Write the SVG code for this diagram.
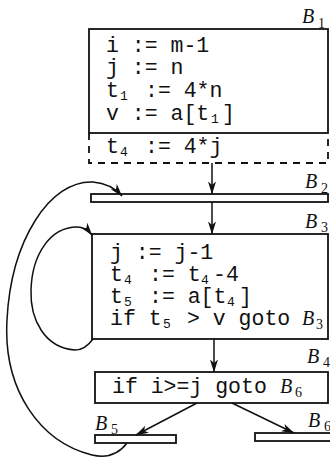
<svg xmlns="http://www.w3.org/2000/svg" width="330" height="457" viewBox="0 0 330 457">
<defs>
<marker id="ah" viewBox="0 0 13 9" refX="12.5" refY="4.5" markerWidth="13" markerHeight="9" markerUnits="userSpaceOnUse" orient="auto">
<path d="M0,0.5 L13,4.5 L0,8.5 L3.5,4.5 Z" fill="#111"/>
</marker>
<style>
.box{fill:none;stroke:#111;stroke-width:1.8}
.dash{fill:none;stroke:#111;stroke-width:1.8;stroke-dasharray:7 6}
.edge{fill:none;stroke:#111;stroke-width:1.5;marker-end:url(#ah)}
.code{font-family:"Liberation Mono","Courier New",monospace;font-size:21.5px;fill:#111}
.sub{font-size:13px}
.lab{font-family:"Liberation Serif","Times New Roman",serif;font-style:italic;font-size:20px;fill:#111}
.ls{font-style:normal;font-size:14px}
</style>
</defs>
<rect width="330" height="457" fill="#fff"/>
<text x="-7" y="33" font-family="Liberation Serif, serif" font-size="22" fill="#111">)</text>

<g id="B1">
<rect class="box" x="89" y="29" width="239" height="104"/>
<path class="dash" d="M89,133 V163 H328 V133"/>
<text class="lab" x="302" y="23">B<tspan class="ls" x="318" y="28">1</tspan></text>
<text class="code" x="106" y="52" xml:space="preserve">i := m-1</text>
<text class="code" x="106" y="74" xml:space="preserve">j := n</text>
<text class="code" x="106" y="97" xml:space="preserve">t<tspan class="sub" x="120" y="100">1</tspan><tspan x="145" y="97">:= 4*n</tspan></text>
<text class="code" x="106" y="120" xml:space="preserve">v := a[t<tspan class="sub" x="211" y="123">1</tspan><tspan x="222" y="120">]</tspan></text>
<text class="code" x="106" y="153" xml:space="preserve">t<tspan class="sub" x="120" y="156">4</tspan><tspan x="145" y="153">:= 4*j</tspan></text>
</g>

<g id="B2">
<rect class="box" x="91" y="194" width="237" height="8"/>
<text class="lab" x="305" y="188">B<tspan class="ls" x="321" y="193">2</tspan></text>
</g>

<g id="B3">
<rect class="box" x="92" y="234" width="236" height="105"/>
<text class="lab" x="305" y="228">B<tspan class="ls" x="321" y="232">3</tspan></text>
<text class="code" x="110" y="259" xml:space="preserve">j := j-1</text>
<text class="code" x="110" y="281" xml:space="preserve">t<tspan class="sub" x="124" y="284">4</tspan><tspan x="149" y="281">:= t</tspan><tspan class="sub" x="201" y="284">4</tspan><tspan x="213" y="281">-4</tspan></text>
<text class="code" x="110" y="303" xml:space="preserve">t<tspan class="sub" x="124" y="306">5</tspan><tspan x="149" y="303">:= a[t</tspan><tspan class="sub" x="227" y="306">4</tspan><tspan x="239" y="303">]</tspan></text>
<text class="code" x="110" y="325" xml:space="preserve">if t<tspan class="sub" x="163" y="328">5</tspan><tspan x="187" y="325">&gt; v goto</tspan></text>
<text class="lab" x="302" y="325">B<tspan class="ls" x="316" y="329">3</tspan></text>
</g>

<g id="B4">
<rect class="box" x="95" y="372" width="233" height="31"/>
<text class="lab" x="307" y="363">B<tspan class="ls" x="323" y="367">4</tspan></text>
<text class="code" x="112" y="393" xml:space="preserve">if i&gt;=j goto</text>
<text class="lab" x="280" y="393">B<tspan class="ls" x="295" y="397">6</tspan></text>
</g>

<g id="B5">
<rect class="box" x="95" y="435" width="81" height="8"/>
<text class="lab" x="95" y="430">B<tspan class="ls" x="111" y="434">5</tspan></text>
</g>

<g id="B6">
<rect class="box" x="255" y="433" width="80" height="8"/>
<text class="lab" x="308" y="427">B<tspan class="ls" x="324" y="431">6</tspan></text>
</g>

<g id="connectors">
<path class="edge" d="M212,163 V194"/>
<path class="edge" d="M212,202 V234"/>
<path class="edge" d="M214,339 V372"/>
<path class="edge" d="M197,403 L136,435"/>
<path class="edge" d="M232,403 L294,433"/>
<path class="edge" d="M127,443 C118,455 105,458 92,455 C40,442 3,390 7,320 C11,240 50,180 93,182 C105,183 115,188 122,196"/>
<path class="edge" d="M93,339 C88,346 82,350 75,350 C45,348 30,320 31,290 C32,255 50,227 77,227 C83,227 88,230 92,235"/>
</g>
</svg>
